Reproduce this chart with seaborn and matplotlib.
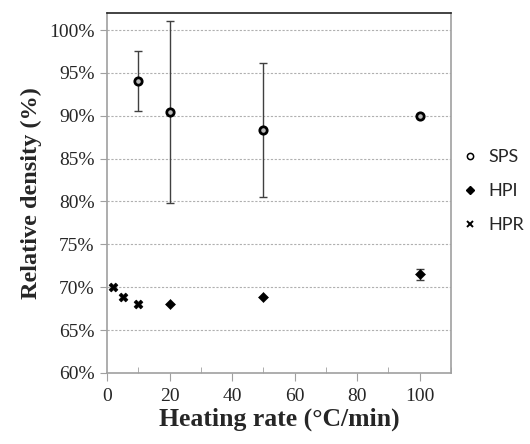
import pandas as pd
import matplotlib.pyplot as plt
import seaborn as sns
from matplotlib.ticker import FuncFormatter, MultipleLocator

# Datos
sps_rate = [10, 20, 50, 100]
sps_density = [94.0, 90.4, 88.3, 90.0]
sps_err = [3.5, 10.6, 7.8, 0.0]

hpi_rate = [20, 50, 100]
hpi_density = [68.0, 68.9, 71.5]
hpi_err = [0.0, 0.0, 0.6]

hpr_rate = [2, 5, 10]
hpr_density = [70.0, 68.9, 68.0]

df = pd.concat([
    pd.DataFrame({'rate': sps_rate, 'density': sps_density, 'method': 'SPS'}),
    pd.DataFrame({'rate': hpi_rate, 'density': hpi_density, 'method': 'HPI'}),
    pd.DataFrame({'rate': hpr_rate, 'density': hpr_density, 'method': 'HPR'}),
], ignore_index=True)

sns.set_style('white')
fig = plt.figure(figsize=(5.3, 4.44), dpi=100)
ax = fig.add_axes([0.202, 0.16, 0.649, 0.811])

# Barras de error
ax.errorbar(sps_rate, sps_density, yerr=sps_err, fmt='none', ecolor='#404040',
            elinewidth=1, capsize=3, capthick=1, zorder=2)
ax.errorbar(hpi_rate, hpi_density, yerr=hpi_err, fmt='none', ecolor='#404040',
            elinewidth=1, capsize=3, capthick=1, zorder=2)

sns.scatterplot(data=df[df.method == 'SPS'], x='rate', y='density', marker='o',
                s=28, facecolor='#bbbbbb', edgecolor='black', linewidth=2.0,
                ax=ax, zorder=3)
sns.scatterplot(data=df[df.method == 'HPI'], x='rate', y='density', marker='D',
                s=26, color='black', edgecolor='black', ax=ax, zorder=3)
sns.scatterplot(data=df[df.method == 'HPR'], x='rate', y='density', marker='X',
                s=40, color='black', edgecolor='black', ax=ax, zorder=3)

ax.set_xlim(0, 110)
ax.set_ylim(60, 102)
ax.xaxis.set_major_locator(MultipleLocator(20))
ax.xaxis.set_minor_locator(MultipleLocator(10))
ax.yaxis.set_major_locator(MultipleLocator(5))
ax.yaxis.set_major_formatter(FuncFormatter(lambda v, p: f'{v:.0f}%'))
ax.grid(axis='y', linestyle=(0, (2, 1.5)), color='#b0b0b0', linewidth=0.8)
ax.set_axisbelow(True)

for lado in ['left', 'bottom', 'right']:
    ax.spines[lado].set_color('#a0a0a0')
    ax.spines[lado].set_linewidth(1.2)
ax.spines['top'].set_color('#222222')
ax.spines['top'].set_linewidth(1.2)

ax.tick_params(axis='x', which='major', direction='out', length=6, color='#a0a0a0',
               bottom=True, labelsize=14, pad=5)
ax.tick_params(axis='x', which='minor', direction='in', length=4, color='#a0a0a0',
               bottom=True)
ax.tick_params(axis='y', which='major', direction='out', length=5, color='#a0a0a0',
               left=True, labelsize=14, pad=4)
for lbl in ax.get_xticklabels() + ax.get_yticklabels():
    lbl.set_fontfamily('Liberation Serif')

ax.set_xlabel('Heating rate (°C/min)', fontfamily='Liberation Serif',
              fontweight='bold', fontsize=18.5, labelpad=2)
ax.set_ylabel('Relative density (%)', fontfamily='Liberation Serif',
              fontweight='bold', fontsize=17.5, labelpad=5)

# Leyenda a la derecha
h1 = plt.Line2D([], [], marker='o', ls='', markersize=4.5, markerfacecolor='white',
                markeredgecolor='black', markeredgewidth=1.1)
h2 = plt.Line2D([], [], marker='D', ls='', markersize=4.5, color='black')
h3 = plt.Line2D([], [], marker='x', ls='', markersize=4.5, color='black', markeredgewidth=1.4)
fig.legend([h1, h2, h3], ['SPS', 'HPI', 'HPR'], loc='center left',
           bbox_to_anchor=(0.857, 0.57), frameon=False, handlelength=0.6,
           handletextpad=0.7, labelspacing=1.0, borderaxespad=0.2,
           prop={'family': 'Lato', 'size': 13})

plt.savefig('out.png', dpi=100)
